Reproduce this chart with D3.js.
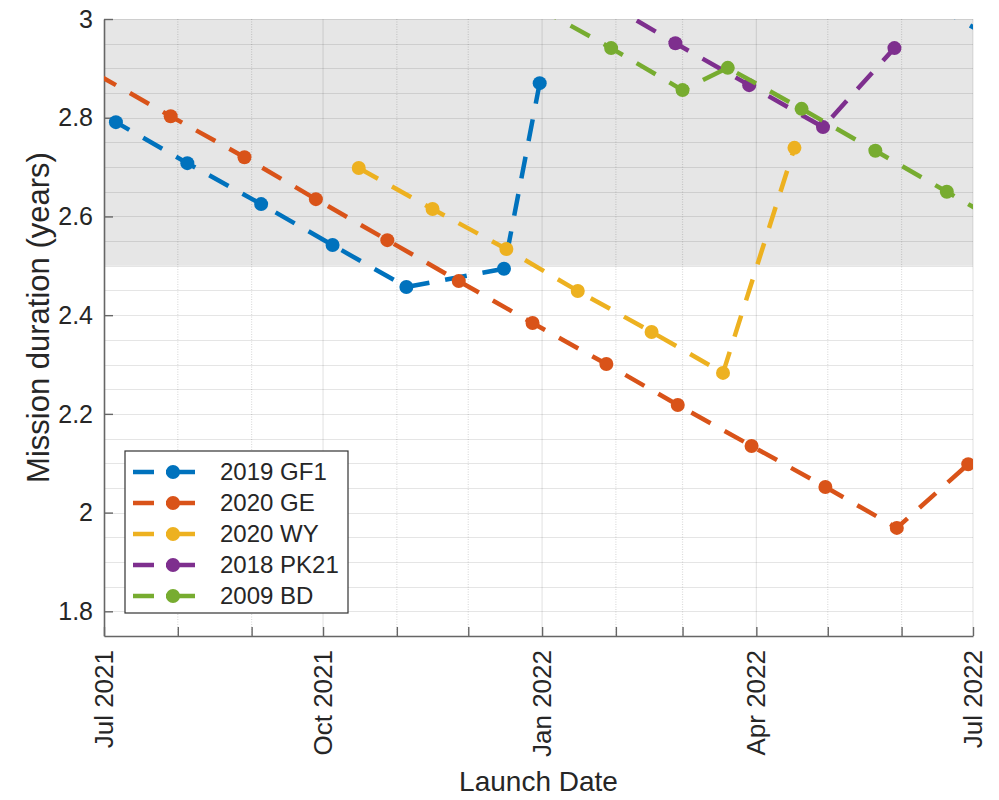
<!DOCTYPE html>
<html>
<head>
<meta charset="utf-8">
<script src="https://cdn.jsdelivr.net/npm/d3@7"></script>
<style>
  body { margin: 0; background: #fff; }
  text { font-family: "Liberation Sans", Arial, sans-serif; fill: #262626; }
</style>
</head>
<body>
<div id="chart"></div>
<script>
var seriesNames = ["2019 GF1", "2020 GE", "2020 WY", "2018 PK21", "2009 BD"];
var seriesColors = ["#0072BD", "#D95319", "#EDB120", "#7E2F8E", "#77AC30"];

// launch dates and durations (null = gap in the line)
var gf1Dates = ["2021-06-06", "2021-07-06", "2021-08-05", "2021-09-05", "2021-10-05", "2021-11-05", "2021-12-16", "2021-12-31", null, "2022-06-02", "2022-07-03"];
var gf1Values = [2.875, 2.791, 2.708, 2.625, 2.542, 2.457, 2.494, 2.870, null, 3.063, 2.978];

var geDates = ["2021-06-28", "2021-07-29", "2021-08-29", "2021-09-28", "2021-10-28", "2021-11-27", "2021-12-28", "2022-01-28", "2022-02-27", "2022-03-30", "2022-04-30", "2022-05-30", "2022-06-29"];
var geValues = [2.888, 2.803, 2.720, 2.635, 2.552, 2.469, 2.384, 2.301, 2.218, 2.135, 2.052, 1.969, 2.098];

var wyDates = ["2021-10-16", "2021-11-16", "2021-12-17", "2022-01-16", "2022-02-16", "2022-03-18", "2022-04-17"];
var wyValues = [2.698, 2.615, 2.534, 2.449, 2.366, 2.283, 2.739];

var pk21Dates = ["2022-01-27", "2022-02-26", "2022-03-29", "2022-04-29", "2022-05-29"];
var pk21Values = [3.036, 2.951, 2.866, 2.781, 2.941];

var bdDates = ["2021-12-30", "2022-01-30", "2022-03-01", "2022-03-20", "2022-04-20", "2022-05-21", "2022-06-20", "2022-07-20"];
var bdValues = [3.024, 2.941, 2.856, 2.901, 2.818, 2.733, 2.650, 2.566];

var xDomain = ["2021-07-01", "2022-07-01"];
var yDomain = [1.75, 3];
var yTicks = [1.8, 2, 2.2, 2.4, 2.6, 2.8, 3];
var shadeRange = [2.5, 3];

var parse = d3.utcParse("%Y-%m-%d");

function makeSeries(dates, values) {
  return dates.map(function(d, i) {
    return { date: d ? parse(d) : null, value: values[i] };
  });
}

var allSeries = [
  makeSeries(gf1Dates, gf1Values),
  makeSeries(geDates, geValues),
  makeSeries(wyDates, wyValues),
  makeSeries(pk21Dates, pk21Values),
  makeSeries(bdDates, bdValues)
];

var width = 999, height = 800;
var margin = { top: 19, right: 26, bottom: 164, left: 104 };
var plotW = width - margin.left - margin.right;
var plotH = height - margin.top - margin.bottom;

var svg = d3.select("#chart").append("svg")
    .attr("width", width)
    .attr("height", height);

var g = svg.append("g")
    .attr("transform", "translate(" + margin.left + "," + margin.top + ")");

var x = d3.scaleUtc()
    .domain(xDomain.map(parse))
    .range([0, plotW]);

var y = d3.scaleLinear()
    .domain(yDomain)
    .range([plotH, 0]);

svg.append("defs").append("clipPath").attr("id", "clip")
  .append("rect")
    .attr("width", plotW)
    .attr("height", plotH);

// grey band 2.5 - 3
g.append("rect")
    .attr("x", 0)
    .attr("y", y(shadeRange[1]))
    .attr("width", plotW)
    .attr("height", y(shadeRange[0]) - y(shadeRange[1]))
    .attr("fill", "#e6e6e6");

// horizontal grid every 0.05
var hGrid = d3.range(yDomain[0] + 0.05, yDomain[1] + 0.001, 0.05);
g.selectAll(".hgrid")
    .data(hGrid)
  .enter().append("line")
    .attr("x1", 0)
    .attr("x2", plotW)
    .attr("y1", function(d) { return Math.round(y(d)) + 0.5; })
    .attr("y2", function(d) { return Math.round(y(d)) + 0.5; })
    .attr("stroke", "#000")
    .attr("stroke-opacity", 0.1)
    .attr("stroke-width", 1.2);

// vertical grid every month, solid on quarters
var months = x.ticks(d3.utcMonth.every(1));
g.selectAll(".vgrid")
    .data(months.slice(1))
  .enter().append("line")
    .attr("x1", function(d) { return x(d); })
    .attr("x2", function(d) { return x(d); })
    .attr("y1", 0)
    .attr("y2", plotH)
    .attr("stroke", "#000")
    .attr("stroke-opacity", function(d) { return d.getUTCMonth() % 3 == 0 ? 0.1 : 0.14; })
    .attr("stroke-dasharray", function(d) { return d.getUTCMonth() % 3 == 0 ? null : "1,1.5"; })
    .attr("stroke-width", 1.2);

// axes
var xAxis = d3.axisBottom(x)
    .tickValues(months)
    .tickSizeInner(-9)
    .tickSizeOuter(0)
    .tickFormat("");

var yAxis = d3.axisLeft(y)
    .tickValues(yTicks)
    .tickSizeInner(-9)
    .tickSizeOuter(0)
    .tickFormat("");

var gx = g.append("g")
    .attr("transform", "translate(0," + plotH + ")")
    .call(xAxis);
var gy = g.append("g").call(yAxis);

[gx, gy].forEach(function(a) {
  a.select(".domain").attr("stroke", "#666").attr("stroke-width", 1.6);
  a.selectAll(".tick line").attr("stroke", "#666").attr("stroke-width", 1.4);
});

// y tick labels
g.selectAll(".ylab")
    .data(yTicks)
  .enter().append("text")
    .attr("x", -11)
    .attr("y", function(d) { return y(d); })
    .attr("dy", "0.35em")
    .attr("text-anchor", "end")
    .style("font-size", "25px")
    .text(function(d) { return d; });

// x tick labels, rotated
var quarterTicks = months.filter(function(d) { return d.getUTCMonth() % 3 == 0; });
var fmt = d3.utcFormat("%b %Y");
g.selectAll(".xlab")
    .data(quarterTicks)
  .enter().append("text")
    .attr("transform", function(d) { return "translate(" + x(d) + "," + (plotH + 14) + ") rotate(-90)"; })
    .attr("dy", "0.35em")
    .attr("text-anchor", "end")
    .style("font-size", "26px")
    .text(fmt);

// axis titles
svg.append("text")
    .attr("x", margin.left + plotW / 2)
    .attr("y", 791)
    .attr("text-anchor", "middle")
    .style("font-size", "28px")
    .text("Launch Date");

svg.append("text")
    .attr("transform", "translate(49," + (margin.top + plotH / 2 - 10) + ") rotate(-90)")
    .attr("text-anchor", "middle")
    .style("font-size", "31px")
    .text("Mission duration (years)");

// lines and markers (markers only for points inside the axes limits)
var line = d3.line()
    .defined(function(d) { return d.date != null; })
    .x(function(d) { return x(d.date); })
    .y(function(d) { return y(d.value); });

function inside(d) {
  if (d.date == null) return false;
  var px = x(d.date), py = y(d.value);
  return px >= 0 && px <= plotW && py >= 0 && py <= plotH;
}

var plot = g.append("g").attr("clip-path", "url(#clip)");

allSeries.forEach(function(s, i) {
  var sg = plot.append("g");
  sg.append("path")
      .datum(s)
      .attr("d", line)
      .attr("fill", "none")
      .attr("stroke", seriesColors[i])
      .attr("stroke-width", 4.5)
      .attr("stroke-dasharray", "22,16");
  sg.selectAll("circle")
      .data(s.filter(inside))
    .enter().append("circle")
      .attr("cx", function(d) { return x(d.date); })
      .attr("cy", function(d) { return y(d.value); })
      .attr("r", 7)
      .attr("fill", seriesColors[i]);
});

// legend
var legend = svg.append("g").attr("transform", "translate(125,451)");
legend.append("rect")
    .attr("width", 223)
    .attr("height", 162)
    .attr("fill", "#fff")
    .attr("stroke", "#333")
    .attr("stroke-width", 1.2);

seriesNames.forEach(function(name, i) {
  var row = legend.append("g").attr("transform", "translate(0," + (21 + i * 31) + ")");
  row.append("line")
      .attr("x1", 8).attr("x2", 70)
      .attr("stroke", seriesColors[i])
      .attr("stroke-width", 4.5)
      .attr("stroke-dasharray", "21,12,40");
  row.append("circle")
      .attr("cx", 48)
      .attr("r", 7)
      .attr("fill", seriesColors[i]);
  row.append("text")
      .attr("x", 95)
      .attr("dy", "0.35em")
      .style("font-size", "24px")
      .text(name);
});
</script>
</body>
</html>
